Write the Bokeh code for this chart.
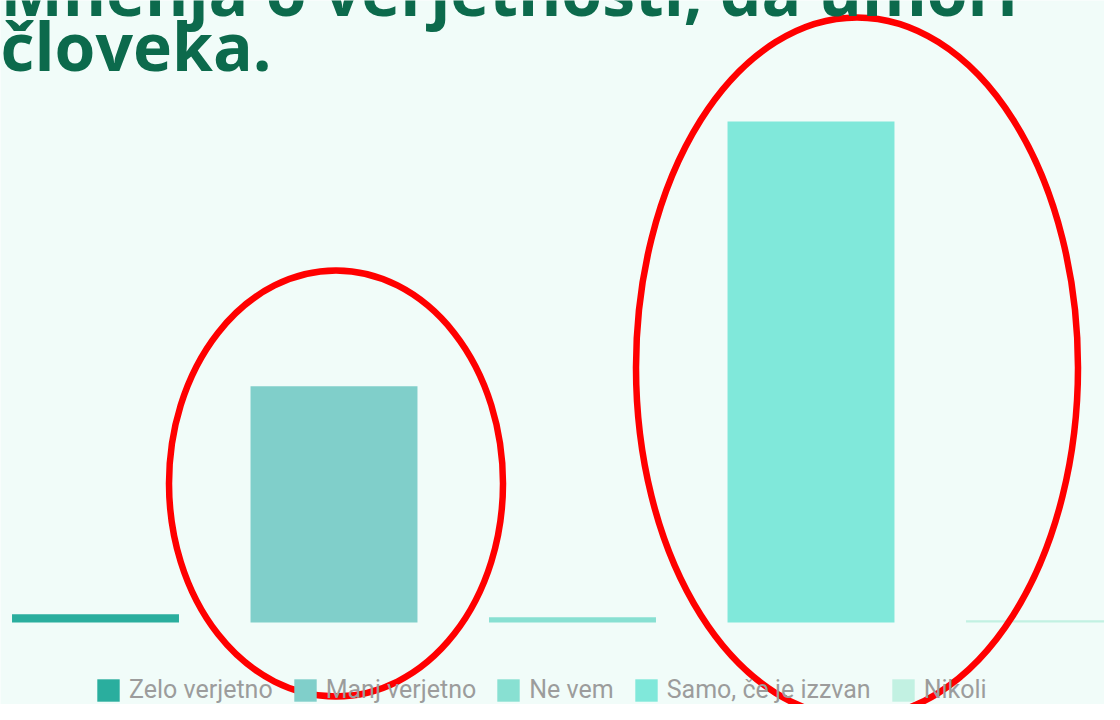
from bokeh.plotting import figure
from bokeh.models import Range1d, Legend, LegendItem, Label, ColumnDataSource
from bokeh.embed import file_html
from bokeh.resources import INLINE

# ---- data ----
categories = ["Zelo verjetno", "Manj verjetno", "Ne vem", "Samo, če je izzvan", "Nikoli"]
values = [1.1, 31.3, 0.7, 66.4, 0.3]
colors = ["#2aae9e", "#80cfca", "#88e0d2", "#80e8da", "#c2f1e2"]
title_lines = ["Mnenja o verjetnosti, da umori", "človeka."]
highlighted = [1, 3]  # bars circled in red

# ---- layout helpers (reference pixel -> data) ----
X0_PX, STEP_PX = 95.0, 238.5
BASE_PX, PX_PER_UNIT = 622.0, 7.545


def dx(px):
    return (px - X0_PX) / STEP_PX


def dy(py):
    return (BASE_PX - py) / PX_PER_UNIT


BG = "#f1fcf9"
p = figure(width=1104, height=704, output_backend="svg", toolbar_location=None,
           x_range=Range1d(dx(0), dx(1104)), y_range=Range1d(dy(704), dy(0)),
           min_border=0, background_fill_color=BG, border_fill_color=BG,
           outline_line_color=None)
p.axis.visible = False
p.grid.visible = False

xs = list(range(len(categories)))
src = ColumnDataSource(dict(x=xs, top=values, color=colors, cat=categories))
r = p.vbar(x="x", top="top", bottom=0, width=0.7, fill_color="color",
           line_color=None, source=src)

items = [LegendItem(label=c, renderers=[r], index=i) for i, c in enumerate(categories)]
legend = Legend(items=items, orientation="horizontal", location=(94, 0),
                glyph_width=28, glyph_height=28, label_standoff=7, spacing=18,
                padding=0, margin=0, border_line_color=None, background_fill_alpha=0,
                label_text_font="Roboto", label_text_font_size="25px",
                label_text_color="#9c9c9c", label_height=28)
p.add_layout(legend, "center")

# title (partly cut off at top in the reference)
TITLE_SHIFT = 26
for line, base in zip(title_lines, [15, 70]):
    p.add_layout(Label(x=dx(0), y=dy(base - TITLE_SHIFT), text=line, text_font="Open Sans",
                       text_font_style="bold", text_font_size="66px", text_color="#0c6a4c",
                       text_baseline="alphabetic"))

# red hand-drawn highlight ellipses
p.ellipse(x=[highlighted[0] + dx(336) - dx(334), highlighted[1] + dx(857) - dx(811)],
          y=[dy(483), dy(367)], width=[334, 442], height=[426, 700],
          width_units="screen", height_units="screen",
          fill_color=None, line_color="#ff0000", line_width=6.5)

open("out.html", "w").write(file_html(p, INLINE))
